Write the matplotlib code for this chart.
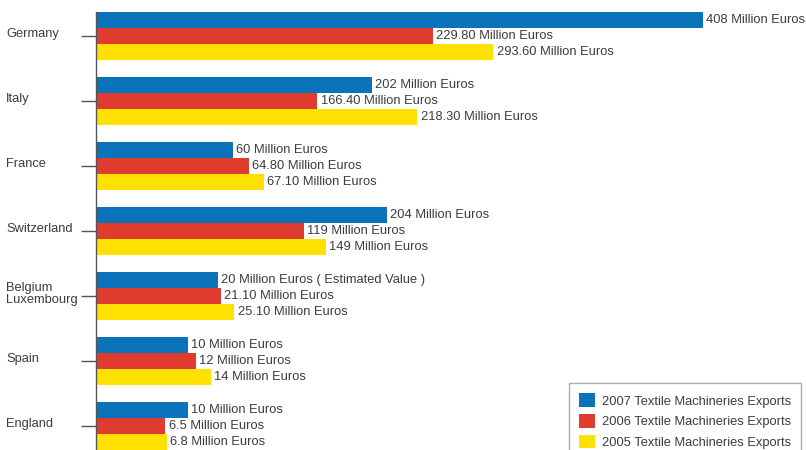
import matplotlib
matplotlib.use('Agg')
import matplotlib.pyplot as plt
import numpy as np

plt.rcParams['font.family'] = ['Liberation Sans', 'DejaVu Sans']

# Countries, top to bottom
countries = ['Germany', 'Italy', 'France', 'Switzerland', 'Belgium\nLuxembourg', 'Spain', 'England']

# Bar lengths as drawn in the picture (chart units, Germany 2007 = 408)
bars_2007 = [408, 185.5, 92.1, 195.6, 82.0, 61.8, 61.8]
bars_2006 = [226.5, 148.6, 102.8, 139.8, 84.0, 67.2, 46.4]
bars_2005 = [266.9, 215.8, 112.9, 154.6, 92.8, 77.3, 47.7]

# Value labels printed next to the bars
labels_2007 = ['408 Million Euros', '202 Million Euros', '60 Million Euros', '204 Million Euros',
               '20 Million Euros ( Estimated Value )', '10 Million Euros', '10 Million Euros']
labels_2006 = ['229.80 Million Euros', '166.40 Million Euros', '64.80 Million Euros', '119 Million Euros',
               '21.10 Million Euros', '12 Million Euros', '6.5 Million Euros']
labels_2005 = ['293.60 Million Euros', '218.30 Million Euros', '67.10 Million Euros', '149 Million Euros',
               '25.10 Million Euros', '14 Million Euros', '6.8 Million Euros']

series_names = ['2007 Textile Machineries Exports', '2006 Textile Machineries Exports',
                '2005 Textile Machineries Exports']
colors = ['#0a73b9', '#e03b2f', '#ffe100']
text_col = '#3c3c3c'
fs = 9.3

fig = plt.figure(figsize=(8.06, 4.5), dpi=100)
ax = fig.add_axes([96 / 806, 0, 1 - 96 / 806, 1 - 12 / 450])

h = 16 / 65
y = np.arange(len(countries))
series = [(bars_2007, labels_2007), (bars_2006, labels_2006), (bars_2005, labels_2005)]
for j, (vals, labs) in enumerate(series):
    pos = y + (j - 1) * h
    ax.barh(pos, vals, height=h, color=colors[j], label=series_names[j], linewidth=0)
    for p, v, t in zip(pos, vals, labs):
        ax.annotate(t, (v, p), xytext=(2.5, 0), textcoords='offset points',
                    va='center', ha='left', fontsize=fs, color=text_col)

ax.set_xlim(0, (806 - 96) * 408 / 607)
ax.set_ylim(len(countries) - 1 + 24 / 65, -24 / 65)

for s in ['top', 'right', 'bottom']:
    ax.spines[s].set_visible(False)
ax.spines['left'].set_color('#555555')
ax.spines['left'].set_linewidth(1.0)
ax.set_xticks([])
ax.set_yticks(y)
ax.set_yticklabels([])
ax.tick_params(axis='y', length=10.5, width=1.0, color='#555555')

# country names, left aligned near the figure edge
trans = matplotlib.transforms.blended_transform_factory(fig.transFigure, ax.transData)
for yi, name in zip(y, countries):
    ax.text(6 / 806, yi - 0.03, name, transform=trans, ha='left', va='center',
            fontsize=fs, color=text_col, linespacing=0.95)

fig.legend(loc='upper left', bbox_to_anchor=(569 / 806, 1 - 383 / 450), fontsize=fs,
           frameon=True, fancybox=False, edgecolor='#999999', labelcolor=text_col,
           handlelength=1.25, handleheight=1.25, handletextpad=0.5, labelspacing=0.5,
           borderpad=0.8, borderaxespad=0)

plt.savefig('out.png', dpi=100)
